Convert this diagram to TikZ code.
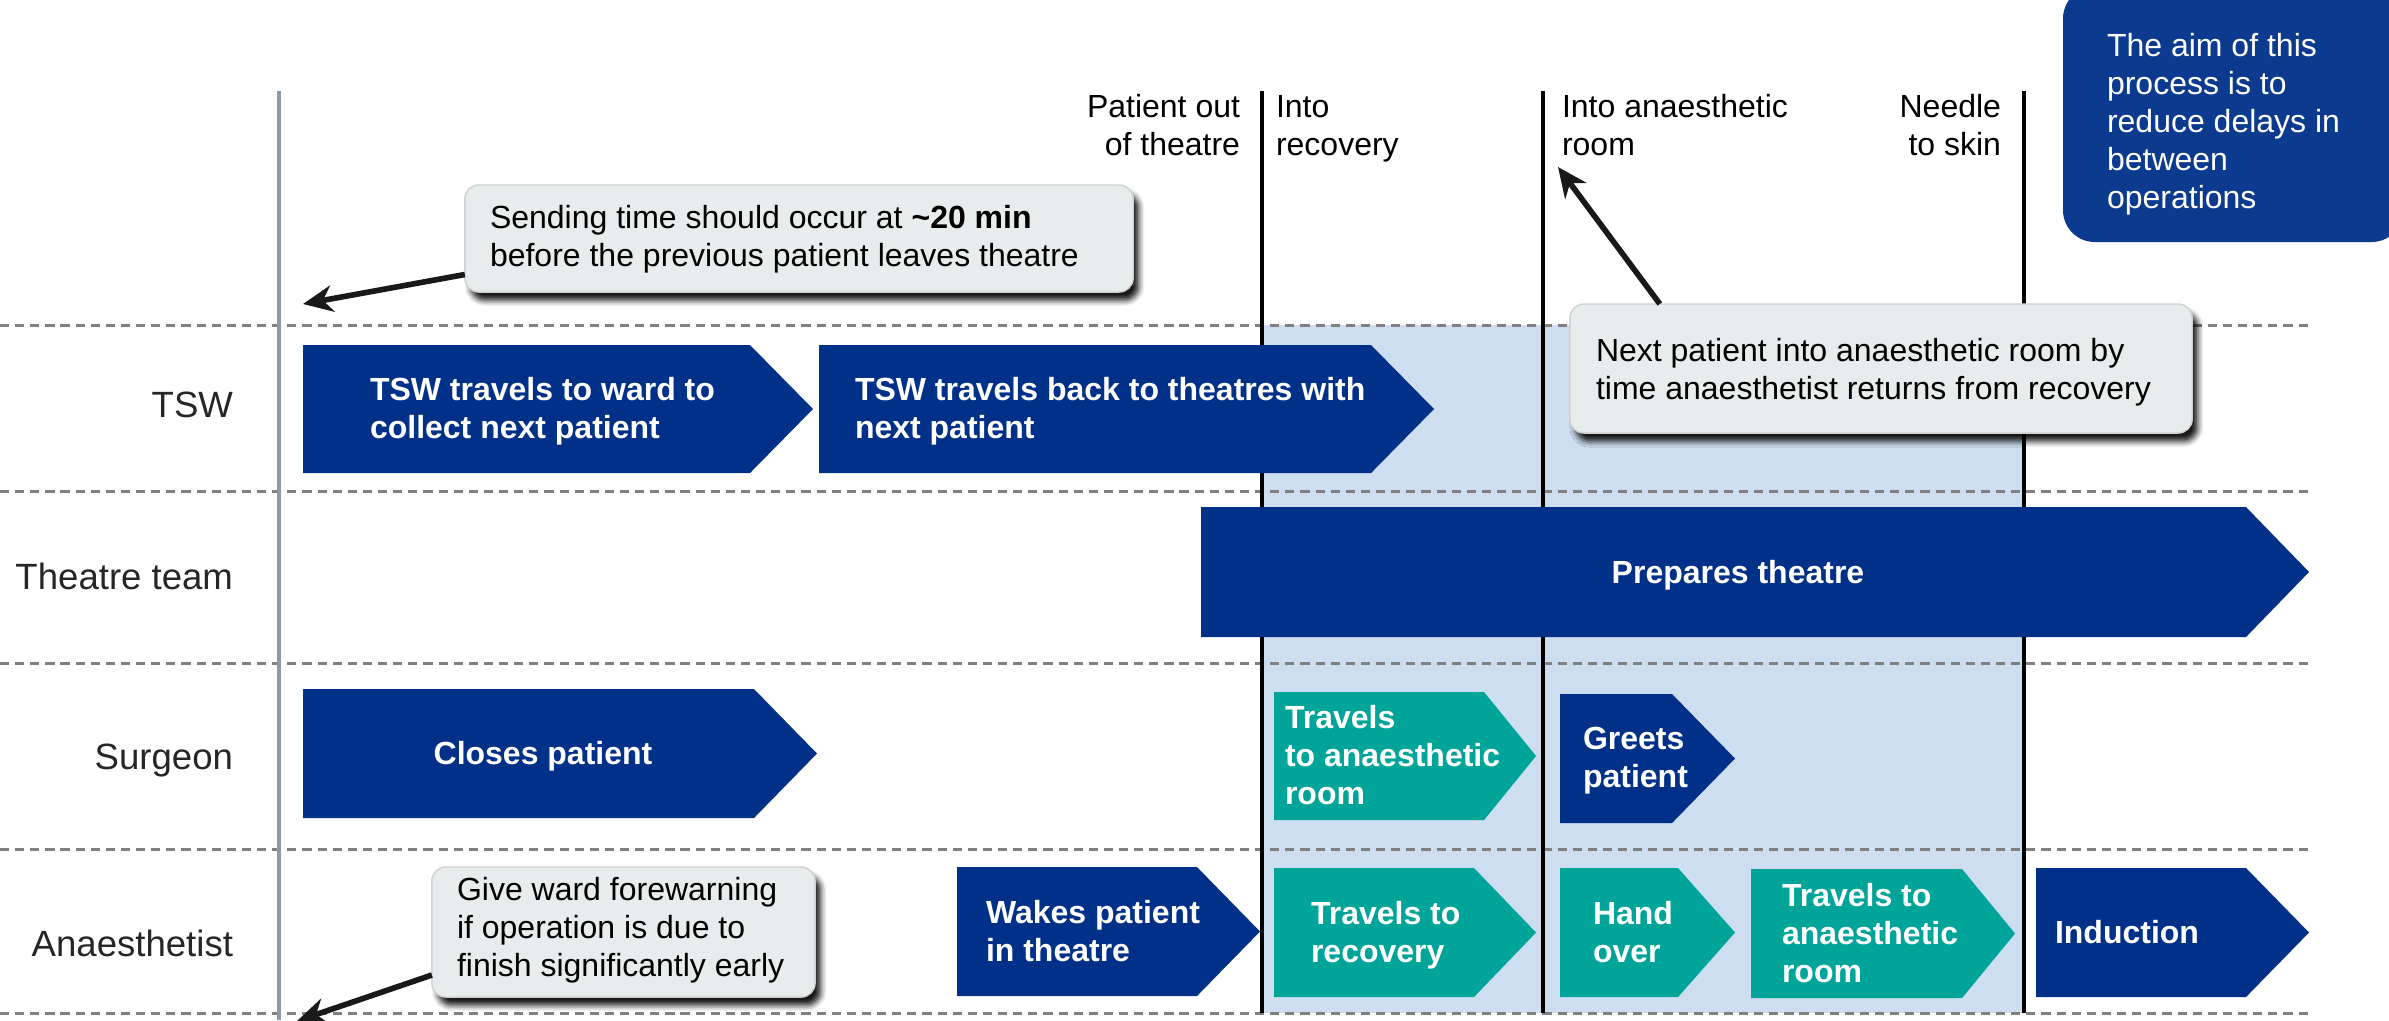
\documentclass[tikz,border=0pt]{standalone}
\usepackage{fontspec}
\setmainfont{Liberation Sans}
\usetikzlibrary{arrows.meta,calc,shadows.blur}
\definecolor{nhsblue}{HTML}{003087}
\definecolor{boxblue}{HTML}{0B3A8E}
\definecolor{tealc}{HTML}{00A499}
\definecolor{shadec}{HTML}{CCDEEF}
\definecolor{callfill}{HTML}{E7ECEC}
\definecolor{dashgray}{HTML}{808080}
\definecolor{axisgray}{HTML}{8E9BA7}
\newcommand\chevshape[6]{\fill[#1] (#2,#5) -- (#3,#5) -- (#4,{(#5+#6)/2}) -- (#3,#6) -- (#2,#6) -- cycle;}
\tikzset{
  every node/.style={inner sep=0pt, outer sep=0pt},
  struts/.style={execute at begin node=\strut, execute at end node=\strut},
  body/.style={font=\fontsize{9.1}{10.81}\selectfont, struts},
  chevtxt/.style={font=\bfseries\fontsize{9.1}{10.81}\selectfont, struts, text=white, align=left, anchor=west},
  lanelbl/.style={font=\fontsize{10.4}{12.5}\selectfont, anchor=east, text=black!85},
  callout/.style={fill=callfill, draw=black!18, line width=0.4pt, rounded corners=4pt,
     blur shadow={shadow xshift=1.6pt, shadow yshift=-2.4pt, shadow opacity=90, shadow blur radius=1.6pt}},
  calltxt/.style={body, align=left, anchor=west},
  dashline/.style={dashgray, line width=0.85pt, dash pattern=on 2.6pt off 1.7pt},
  tline/.style={black, line width=1.1pt},
  axisline/.style={axisgray, line width=1.3pt},
  arr/.style={black!90, line width=1.6pt, -{Stealth[length=8.5pt,width=7.6pt]}},
}
\begin{document}
\begin{tikzpicture}[x=0.01cm,y=-0.01cm]
\useasboundingbox (0,0) rectangle (2389,1020);
% shaded window
\fill[shadec] (1262,325) rectangle (2024,1013);
% lane separators
\foreach \yy in {325,491,663,849,1013} \draw[dashline] (0,\yy) -- (2311,\yy);
% time lines
\draw[axisline] (279,91) -- (279,1020);
\foreach \xx in {1262,1543,2024} \draw[tline] (\xx,91) -- (\xx,1013);
% top labels
\node[body, align=right, anchor=east] (lout) at (1240,131) {Patient out\\of theatre};
\node[body, align=left, anchor=west] (lrec) at (1276,131) {Into\\recovery};
\node[body, align=left, anchor=west] (lana) at (1562,131) {Into anaesthetic\\room};
\node[body, align=right, anchor=east] (lneedle) at (2001,131) {Needle\\to skin};
% aim box
\node[fill=boxblue, rounded corners=9pt, minimum width=3.4cm, minimum height=2.55cm, anchor=south west] (aim) at (2063,242) {};
\node[body, text=white, align=left, anchor=west] (aimt) at (2107,127) {The aim of this\\process is to\\reduce delays in\\between\\operations};
% lane labels
\node[lanelbl] (ltsw) at (233,405) {TSW};
\node[lanelbl] (lteam) at (233,576) {Theatre team};
\node[lanelbl] (lsurg) at (233,760) {Surgeon};
\node[lanelbl] (lanae) at (233,943) {Anaesthetist};
% chevrons
\chevshape{nhsblue}{303}{750}{813}{345}{473}
\chevshape{nhsblue}{819}{1371}{1434}{345}{473}
\chevshape{nhsblue}{1201}{2246}{2309}{507}{637}
\chevshape{nhsblue}{303}{754}{817}{689}{818}
\chevshape{tealc}{1274}{1484}{1536}{692}{820}
\chevshape{nhsblue}{1560}{1672}{1735}{694}{823}
\chevshape{nhsblue}{957}{1197}{1260}{867}{996}
\chevshape{tealc}{1274}{1474}{1536}{868}{997}
\chevshape{tealc}{1560}{1678}{1735}{868}{997}
\chevshape{tealc}{1751}{1962}{2015}{869}{998}
\chevshape{nhsblue}{2036}{2246}{2309}{868}{997}
\node[chevtxt] (c1) at (370,414) {TSW travels to ward to\\collect next patient};
\node[chevtxt] (c2) at (855,414) {TSW travels back to theatres with\\next patient};
\node[chevtxt, anchor=center] (c3) at (1738,576) {Prepares theatre};
\node[chevtxt, anchor=center] (c4) at (543,757) {Closes patient};
\node[chevtxt] (c5) at (1285,761) {Travels\\to anaesthetic\\room};
\node[chevtxt] (c6) at (1583,763) {Greets\\patient};
\node[chevtxt] (c7) at (986,937) {Wakes patient\\in theatre};
\node[chevtxt] (c8) at (1311,938) {Travels to\\recovery};
\node[chevtxt] (c9) at (1593,938) {Hand\\over};
\node[chevtxt] (c10) at (1782,939) {Travels to\\anaesthetic\\room};
\node[chevtxt] (c11) at (2055,936) {Induction};
% callouts
\node[callout, minimum width=6.68cm, minimum height=1.07cm] (k1) at (799,238.5) {};
\node[calltxt] (k1t) at (490,242)
  {Sending time should occur at \textbf{\textasciitilde20 min}\\before the previous patient leaves theatre};
\node[callout, minimum width=6.22cm, minimum height=1.29cm] (k2) at (1881,368.5) {};
\node[calltxt] (k2t) at (1596,375)
  {Next patient into anaesthetic room by\\time anaesthetist returns from recovery};
\node[callout, minimum width=3.83cm, minimum height=1.30cm] (k3) at (623.5,932) {};
\node[calltxt] (k3t) at (457,933)
  {Give ward forewarning\\if operation is due to\\finish significantly early};
% arrows
\coordinate (t1) at (303,304);
\coordinate (t2) at (1558,167);
\coordinate (t3) at (297,1021);
\draw[arr] ($(k1.west)+(0,36)$) -- (t1);
\draw[arr] ($(k2.north west)+(90,0)$) -- (t2);
\draw[arr] ($(k3.west)+(0,43)$) -- (t3);
\end{tikzpicture}
\end{document}
